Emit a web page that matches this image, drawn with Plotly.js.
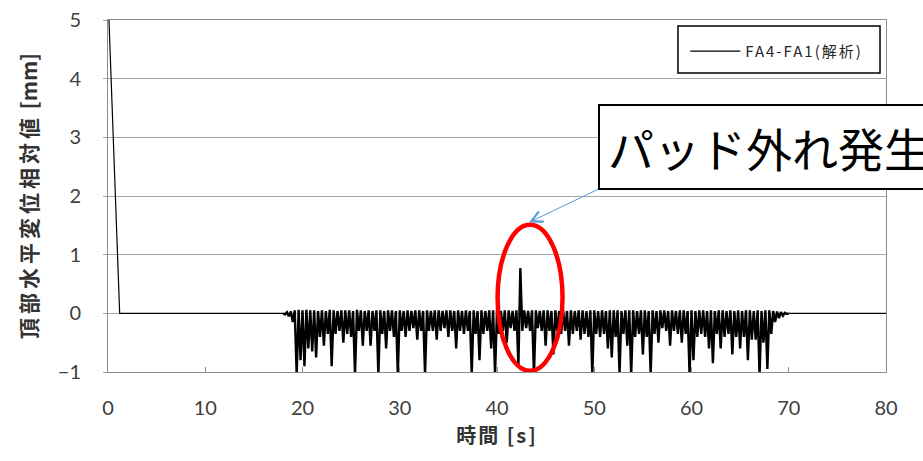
<!DOCTYPE html>
<html>
<head>
<meta charset="utf-8">
<script src="https://cdn.plot.ly/plotly-3.0.1.min.js"></script>
<style>html,body{margin:0;padding:0;background:#fff;}</style>
</head>
<body>
<div id="chart" style="width:923px;height:461px;"></div>
<script>
// Initial release: relative displacement drops from 5 mm to 0
const startTime = [0.1, 1.2, 18.0];
const startDisp = [5.0, 0.0, 0.0];

// Shaking response, sampled every 0.2 s from 18.0 s to 70.0 s (one row = 2 s)
const noiseStart = 18.0;
const noiseStep = 0.2;
const noiseDisp = [
  0.00,-0.02, 0.02,-0.05, 0.03,-0.15, 0.05,-1.05, 0.06,-0.80,
  0.05,-0.90, 0.06,-0.60, 0.05,-0.65, 0.05,-0.75, 0.04,-0.40,
  0.05,-0.55, 0.04,-0.35, 0.06,-0.90, 0.05,-0.35, 0.04,-0.30,
  0.05,-0.50, 0.05,-0.35, 0.05,-0.40, 0.04,-1.05, 0.06,-0.30,
  0.05,-0.55, 0.04,-0.30, 0.05,-0.55, 0.04,-0.30, 0.05,-1.05,
  0.05,-0.35, 0.04,-0.60, 0.05,-0.30, 0.05,-0.40, 0.04,-1.05,
  0.05,-0.30, 0.04,-0.40, 0.05,-0.30, 0.04,-0.25, 0.05,-0.45,
  0.05,-0.30, 0.04,-1.05, 0.05,-0.30, 0.04,-0.30, 0.05,-0.45,
  0.05,-0.30, 0.04,-0.25, 0.05,-0.40, 0.05,-0.30, 0.04,-0.60,
  0.05,-0.30, 0.04,-0.35, 0.05,-0.30, 0.04,-1.05, 0.05,-0.35,
  0.04,-0.80, 0.05,-0.35, 0.04,-0.30, 0.05,-0.60, 0.05,-1.05,
  0.05,-0.35, 0.04,-0.30, 0.05,-0.50, 0.05,-0.25, 0.04,-0.30,
  0.05,-0.90, 0.77,-0.30, 0.05,-0.25, 0.04,-0.30, 0.05,-1.05,
  0.05,-0.25, 0.04,-0.30, 0.05,-0.55, 0.05,-0.30, 0.04,-0.70,
  0.05,-0.30, 0.04,-0.35, 0.05,-0.30, 0.04,-0.55, 0.05,-0.35,
  0.04,-0.30, 0.05,-0.45, 0.05,-0.35, 0.04,-0.40, 0.05,-1.05,
  0.05,-0.35, 0.04,-0.40, 0.05,-0.35, 0.04,-0.60, 0.05,-0.75,
  0.05,-0.40, 0.05,-1.05, 0.04,-0.35, 0.05,-0.55, 0.05,-1.05,
  0.05,-0.40, 0.04,-0.35, 0.05,-0.70, 0.05,-0.40, 0.04,-1.05,
  0.05,-0.35, 0.04,-0.50, 0.05,-0.25, 0.05,-0.30, 0.04,-0.55,
  0.05,-0.30, 0.04,-0.35, 0.05,-0.50, 0.05,-0.35, 0.04,-1.05,
  0.05,-0.80, 0.04,-0.40, 0.05,-0.35, 0.05,-0.40, 0.04,-0.60,
  0.05,-0.85, 0.04,-0.35, 0.05,-0.60, 0.05,-0.40, 0.04,-0.35,
  0.05,-0.70, 0.04,-0.40, 0.05,-0.60, 0.04,-0.40, 0.05,-0.80,
  0.05,-0.45, 0.04,-0.45, 0.05,-1.05, 0.04,-0.50, 0.05,-0.95,
  0.05,-0.35, 0.04,-0.15, 0.03,-0.08, 0.02,-0.04, 0.01,-0.01,
  0.00
];

// Rest after shaking
const endTime = [70.0, 80.0];
const endDisp = [0.0, 0.0];

const seriesName = '<span style="letter-spacing:2px">FA4-FA1(解析)</span>';
const xTitle = '<span style="letter-spacing:2px">時間 [s]</span>';
const yTitle = '<span style="letter-spacing:4px">頂部水平変位相対値</span> [mm]';
const calloutText = 'パッド外れ発生';

const lineStyle = {color: '#000000', width: 1.2};
const traces = [
  {x: startTime, y: startDisp, mode: 'lines', line: lineStyle, name: seriesName, showlegend: true, legendgroup: 'a'},
  {y: noiseDisp, x0: noiseStart, dx: noiseStep, mode: 'lines', line: {color: '#000000', width: 2.4, simplify: false}, name: seriesName, showlegend: false, legendgroup: 'a'},
  {x: endTime, y: endDisp, mode: 'lines', line: lineStyle, name: seriesName, showlegend: false, legendgroup: 'a'}
];

const tickFont = {family: 'Lato, "Noto Sans CJK JP", sans-serif', size: 20, color: '#404040'};
const cjkFont = '"Noto Sans CJK JP", sans-serif';

const layout = {
  width: 923, height: 461,
  margin: {l: 108, r: 37, t: 20, b: 89},
  paper_bgcolor: '#ffffff', plot_bgcolor: '#ffffff',
  showlegend: true,
  legend: {
    x: 0.742, y: 0.958, xanchor: 'left', yanchor: 'top',
    bgcolor: 'rgba(0,0,0,0)', borderwidth: 0,
    font: {family: cjkFont, size: 15, color: '#262626'},
    itemwidth: 50
  },
  xaxis: {
    range: [0, 80], dtick: 10, tick0: 0,
    showgrid: false, zeroline: false,
    showline: true, mirror: true, linecolor: '#8c8c8c', linewidth: 1,
    ticks: 'inside', ticklen: 5, tickcolor: '#8c8c8c',
    tickfont: tickFont, ticklabelstandoff: 18,
    title: {text: xTitle, font: {family: cjkFont, size: 20, color: '#333333', weight: 'bold'}, standoff: 10}
  },
  yaxis: {
    range: [-1, 5], dtick: 1, tick0: 0,
    showgrid: true, gridcolor: '#a6a6a6', gridwidth: 1, zeroline: false,
    showline: true, mirror: true, linecolor: '#8c8c8c', linewidth: 1,
    ticks: 'outside', ticklen: 4, tickcolor: '#a6a6a6',
    tickfont: tickFont, ticklabelstandoff: 18,
    title: {text: yTitle, font: {family: cjkFont, size: 21, color: '#333333', weight: 'bold'}, standoff: 14}
  },
  shapes: [
    {type: 'rect', xref: 'paper', yref: 'paper', x0: 0.7326, x1: 0.9923, y0: 0.8494, y1: 0.9830,
     line: {color: '#000000', width: 1.5}, fillcolor: 'rgba(0,0,0,0)'},
    {type: 'circle', xref: 'x', yref: 'y', x0: 40.06, x1: 46.74, y0: -0.98, y1: 1.51,
     line: {color: '#ff0000', width: 4.5}, fillcolor: 'rgba(0,0,0,0)'}
  ],
  annotations: [
    {x: 43.29, y: 1.55, xref: 'x', yref: 'y', text: '', showarrow: true,
     ax: 71, ay: -34, arrowcolor: '#5b9bd5', arrowwidth: 1, arrowhead: 5, arrowsize: 2.2},
    {x: 0.630, y: 0.761, xref: 'paper', yref: 'paper', xanchor: 'left', yanchor: 'top',
     text: calloutText, showarrow: false, align: 'left',
     font: {family: cjkFont, size: 46, color: '#000000'},
     bgcolor: '#ffffff', bordercolor: '#000000', borderwidth: 2, borderpad: 8}
  ]
};

Plotly.newPlot('chart', traces, layout, {displayModeBar: false, staticPlot: true});
</script>
</body>
</html>
